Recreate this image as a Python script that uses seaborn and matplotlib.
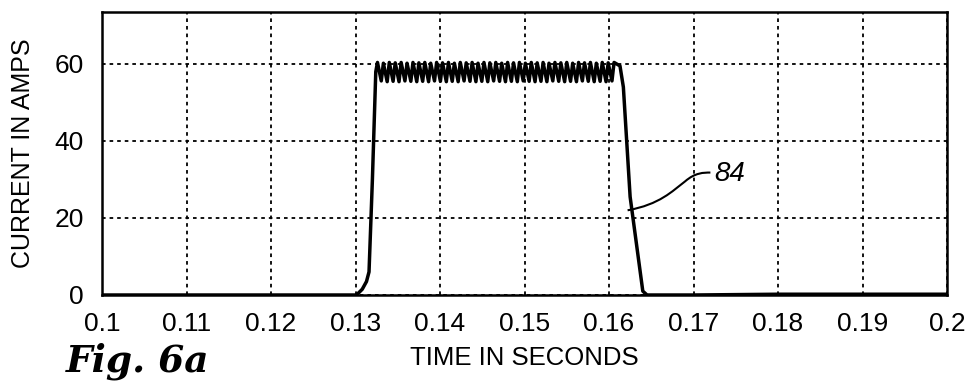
import numpy as np
import pandas as pd
import matplotlib
matplotlib.use("Agg")
import matplotlib.pyplot as plt
import seaborn as sns
from matplotlib.path import Path
from matplotlib.patches import PathPatch

# ---- data ----
pre_t = [0.100, 0.1300, 0.1303, 0.1308, 0.1313, 0.1316, 0.1320, 0.1324]
pre_i = [0.0, 0.0, 0.4, 1.5, 3.5, 6.0, 30.0, 58.0]

peak_t = [0.1326, 0.1333, 0.1340, 0.1347, 0.1354, 0.1361, 0.1368, 0.1375, 0.1382, 0.1389,
          0.1396, 0.1403, 0.1410, 0.1417, 0.1424, 0.1431, 0.1438, 0.1445, 0.1452, 0.1459,
          0.1466, 0.1473, 0.1480, 0.1487, 0.1494, 0.1501, 0.1508, 0.1515, 0.1522, 0.1529,
          0.1536, 0.1543, 0.1550, 0.1557, 0.1564, 0.1571, 0.1578, 0.1585, 0.1592, 0.1599,
          0.1606]
peak_i = [60.4, 60.2, 60.4, 60.3, 60.4, 60.2, 60.4, 60.3, 60.4, 60.2,
          60.4, 60.3, 60.4, 60.2, 60.4, 60.3, 60.4, 60.2, 60.4, 60.3,
          60.4, 60.2, 60.4, 60.3, 60.4, 60.2, 60.4, 60.3, 60.4, 60.2,
          60.4, 60.3, 60.4, 60.2, 60.4, 60.3, 60.4, 60.2, 60.4, 60.3,
          60.4]
trough_t = [0.13305, 0.13375, 0.13445, 0.13515, 0.13585, 0.13655, 0.13725, 0.13795, 0.13865, 0.13935,
            0.14005, 0.14075, 0.14145, 0.14215, 0.14285, 0.14355, 0.14425, 0.14495, 0.14565, 0.14635,
            0.14705, 0.14775, 0.14845, 0.14915, 0.14985, 0.15055, 0.15125, 0.15195, 0.15265, 0.15335,
            0.15405, 0.15475, 0.15545, 0.15615, 0.15685, 0.15755, 0.15825, 0.15895, 0.15965, 0.16035]
trough_i = [55.6, 55.4, 55.5, 55.4, 55.6, 55.5, 55.4, 55.5, 55.4, 55.6,
            55.5, 55.4, 55.5, 55.4, 55.6, 55.5, 55.4, 55.5, 55.4, 55.6,
            55.5, 55.4, 55.5, 55.4, 55.6, 55.5, 55.4, 55.5, 55.4, 55.6,
            55.5, 55.4, 55.5, 55.4, 55.6, 55.5, 55.4, 55.5, 55.4, 55.6]

post_t = [0.1613, 0.1617, 0.1625, 0.1640, 0.1645, 0.1700, 0.1800, 0.1900, 0.2000]
post_i = [59.5, 54.0, 25.5, 1.0, 0.0, 0.0, 0.2, 0.2, 0.2]

x_ticks = [0.10, 0.11, 0.12, 0.13, 0.14, 0.15, 0.16, 0.17, 0.18, 0.19, 0.20]
x_labels = ["0.1", "0.11", "0.12", "0.13", "0.14", "0.15", "0.16", "0.17", "0.18", "0.19", "0.2"]
y_ticks = [0, 20, 40, 60]
y_labels = ["0", "20", "40", "60"]

# assemble the waveform in time order
rip_t, rip_i = [], []
for k in range(len(peak_t)):
    rip_t.append(peak_t[k]); rip_i.append(peak_i[k])
    if k < len(trough_t):
        rip_t.append(trough_t[k]); rip_i.append(trough_i[k])
df = pd.DataFrame({"t": pre_t + rip_t + post_t, "i": pre_i + rip_i + post_i})

# ---- figure ----
sns.set_style("white")
plt.rcParams["font.family"] = ["Liberation Sans", "DejaVu Sans"]

fig = plt.figure(figsize=(9.76, 3.81), dpi=100)
ax = fig.add_axes([102 / 976, 1 - 295 / 381, 845 / 976, 283 / 381])

sns.lineplot(data=df, x="t", y="i", ax=ax, sort=False, estimator=None,
             color="black", linewidth=2.5)

ax.set_xlim(0.1, 0.2)
ax.set_ylim(0, 73.5)
ax.set_xticks(x_ticks)
ax.set_xticklabels(x_labels)
ax.set_yticks(y_ticks)
ax.set_yticklabels(y_labels)
ax.tick_params(axis="both", direction="in", length=5, width=1.5, color="black",
               labelsize=19, labelcolor="black")
ax.tick_params(axis="x", pad=12)
ax.tick_params(axis="y", pad=13)

ax.grid(True, color="black", linestyle=(0, (2, 2.2)), linewidth=1.3)
for s in ax.spines.values():
    s.set_visible(True)
    s.set_color("black")
    s.set_linewidth(1.8)

ax.set_xlabel("TIME IN SECONDS", fontsize=18.5, color="black")
ax.xaxis.set_label_coords(0.5, (295 - 346) / 283)
ax.set_ylabel("CURRENT IN AMPS", fontsize=18, color="black", va="center")
ax.yaxis.set_label_coords((23 - 102) / 845, (295 - 153) / 283)

# reference label 84 with S-shaped leader
verts = [(0.1622, 22.0), (0.1660, 23.5), (0.1675, 27.0), (0.1690, 29.5),
         (0.1702, 31.8), (0.1712, 31.8), (0.1720, 31.8)]
codes = [Path.MOVETO, Path.CURVE4, Path.CURVE4, Path.CURVE4, Path.CURVE4, Path.CURVE4, Path.CURVE4]
ax.add_patch(PathPatch(Path(verts, codes), fill=False, edgecolor="black", linewidth=1.5))
ax.text(0.1724, 31.5, "84", fontsize=20, style="italic", ha="left", va="center", color="black")

fig.text(66 / 976, 1 - 371 / 381, "Fig. 6a", fontsize=27, family="DejaVu Serif",
         style="italic", weight="bold", ha="left", va="baseline", color="black")

fig.savefig("out.png", dpi=100, facecolor="white")
